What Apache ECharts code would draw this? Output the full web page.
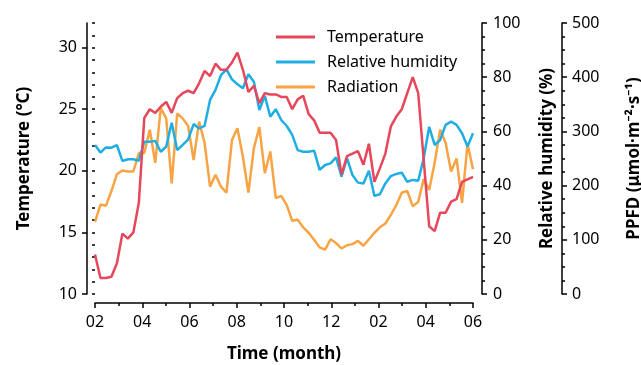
<!DOCTYPE html>
<html><head><meta charset="utf-8">
<script src="https://cdn.jsdelivr.net/npm/echarts@6/dist/echarts.min.js"></script>
<style>html,body{margin:0;padding:0;background:#fff}#c{width:641px;height:365px}</style>
</head><body><div id="c"></div>
<script>
const monthLabels = ['02','04','06','08','10','12','02','04','06'];
const temperature = [
  13.2, 11.3, 11.3, 11.4, 12.5, 14.9, 14.5, 15.0, 17.4, 24.3,
  25.0, 24.7, 25.2, 25.6, 24.7, 25.9, 26.3, 26.5, 26.3, 27.1,
  28.1, 27.7, 28.7, 28.2, 28.2, 28.8, 29.6, 28.2, 26.4, 26.9,
  25.5, 26.3, 26.2, 26.2, 26.0, 26.0, 25.0, 25.8, 26.1, 24.6,
  24.1, 23.1, 23.1, 23.1, 22.5, 19.7, 21.2, 21.4, 21.6, 20.5,
  22.2, 19.1, 20.2, 21.4, 23.6, 24.4, 25.0, 26.3, 27.6, 26.3,
  20.9, 15.5, 15.1, 16.6, 16.6, 17.5, 17.7, 19.1, 19.3, 19.5
];
const humidity = [
  55.0, 52.2, 54.1, 54.0, 54.9, 49.1, 49.7, 49.7, 49.2, 56.2,
  56.2, 56.5, 52.5, 54.4, 63.2, 53.1, 55.0, 57.0, 62.7, 61.1,
  62.0, 71.6, 75.3, 80.8, 82.9, 79.2, 77.4, 75.9, 81.1, 78.3,
  67.9, 73.1, 65.4, 68.2, 64.2, 62.0, 58.7, 53.1, 52.5, 52.5,
  52.9, 45.8, 47.6, 48.2, 50.4, 43.3, 50.1, 43.9, 41.1, 40.8,
  45.5, 36.2, 36.8, 40.8, 43.5, 44.3, 44.8, 41.4, 42.1, 41.8,
  50.1, 61.7, 55.0, 56.8, 62.4, 63.6, 62.4, 59.3, 54.4, 59.3
];
const radiation = [
  133, 165, 163, 190, 221, 228, 226, 226, 260, 260,
  303, 242, 343, 324, 204, 333, 324, 310, 247, 318,
  279, 198, 220, 198, 187, 284, 306, 253, 187, 269,
  308, 223, 263, 177, 181, 164, 135, 137, 123, 113,
  100, 86, 82, 101, 94, 84, 90, 92, 98, 89,
  101, 113, 123, 130, 146, 164, 187, 190, 162, 170,
  212, 192, 242, 303, 279, 226, 250, 168, 277, 230
];
const weeks = temperature.map((_, i) => 'W' + (i + 1));

const FONT = 'Noto Sans';
const black = '#000';
const lineW = 1.5;
const baseAxis = {
  axisLine: { show: true, onZero: false, lineStyle: { color: black, width: lineW } },
  axisTick: { show: true, length: 5, lineStyle: { color: black, width: lineW } },
  splitLine: { show: false },
  axisLabel: { color: black, fontSize: 16, fontFamily: FONT },
  nameTextStyle: { color: black, fontSize: 17, fontWeight: 'bold', fontFamily: FONT },
  nameLocation: 'middle'
};
const minor = (n) => ({ show: true, splitNumber: n, length: 3, lineStyle: { color: black, width: lineW } });

const chart = echarts.init(document.getElementById('c'), null, { renderer: 'canvas' });
chart.setOption({
  animation: false,
  backgroundColor: '#fff',
  textStyle: { fontFamily: FONT },
  grid: { left: 95, right: 168, top: 23, bottom: 71, containLabel: false, outerBoundsMode: 'none' },
  legend: {
    orient: 'vertical', left: 271, top: 24, itemWidth: 39, itemHeight: 3, itemGap: 9, icon: 'rect',
    textStyle: { fontSize: 16, color: black, fontFamily: FONT, padding: [0, 0, 0, 7] },
    data: ['Temperature', 'Relative humidity', 'Radiation']
  },
  xAxis: [
    { type: 'category', data: weeks, boundaryGap: false, show: false },
    Object.assign({}, baseAxis, {
      type: 'value', min: 0, max: 16, interval: 2, position: 'bottom', offset: 9,
      minorTick: minor(2),
      axisLabel: Object.assign({}, baseAxis.axisLabel, { margin: 11, formatter: v => monthLabels[Math.round(v / 2)] }),
      name: 'Time (month)', nameGap: 43
    })
  ],
  yAxis: [
    Object.assign({}, baseAxis, {
      type: 'value', min: 10, max: 32, interval: 5, position: 'left', offset: 8,
      axisLabel: Object.assign({}, baseAxis.axisLabel, { margin: 10, showMaxLabel: false }),
      name: 'Temperature (°C)', nameGap: 54, nameRotate: 90
    }),
    Object.assign({}, baseAxis, {
      type: 'value', min: 0, max: 100, interval: 20, position: 'right', offset: 9,
      minorTick: minor(4),
      axisLabel: Object.assign({}, baseAxis.axisLabel, { margin: 11 }),
      name: 'Relative humidity (%)', nameGap: 57, nameRotate: 90
    }),
    Object.assign({}, baseAxis, {
      type: 'value', min: 0, max: 500, interval: 100, position: 'right', offset: 89,
      minorTick: minor(4),
      axisLabel: Object.assign({}, baseAxis.axisLabel, { margin: 10 }),
      name: 'PPFD (μmol·m⁻²·s⁻¹)', nameGap: 64, nameRotate: 90
    }),
    {
      type: 'value', min: 10, max: 32, interval: 1, position: 'left', offset: 8,
      axisLine: { show: false }, splitLine: { show: false }, axisLabel: { show: false },
      axisTick: { show: true, length: 3, lineStyle: { color: black, width: lineW } }
    }
  ],
  series: [
    { name: 'Temperature', type: 'line', xAxisIndex: 0, yAxisIndex: 0, data: temperature,
      symbol: 'none', lineStyle: { color: '#E6475B', width: 2.5 }, itemStyle: { color: '#E6475B' }, z: 3 },
    { name: 'Relative humidity', type: 'line', xAxisIndex: 0, yAxisIndex: 1, data: humidity,
      symbol: 'none', lineStyle: { color: '#1FAEE3', width: 2.5 }, itemStyle: { color: '#1FAEE3' }, z: 2 },
    { name: 'Radiation', type: 'line', xAxisIndex: 0, yAxisIndex: 2, data: radiation,
      symbol: 'none', lineStyle: { color: '#F8A444', width: 2.5 }, itemStyle: { color: '#F8A444' }, z: 1 }
  ]
});
</script></body></html>
